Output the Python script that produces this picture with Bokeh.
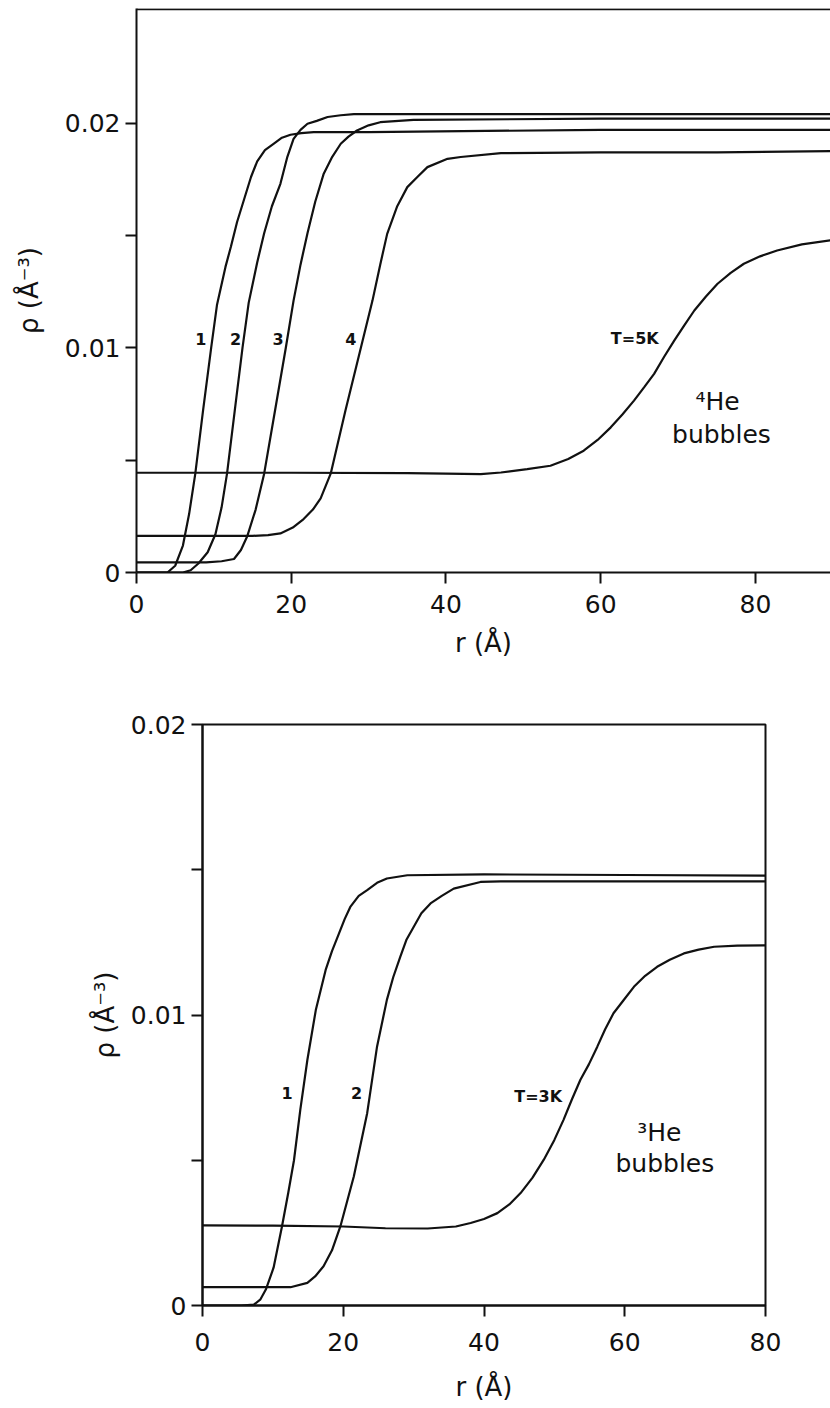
from bokeh.plotting import figure
from bokeh.models import Range1d, FixedTicker, Span
from bokeh.core.properties import value
from bokeh.embed import file_html
from bokeh.resources import INLINE

# ---------------- 4He bubbles (top panel) ----------------
he4_c1_r = [0, 4.0, 5.0, 6.0, 6.8, 7.6, 8.6, 9.65, 10.4, 11.5, 12.2, 13.0, 13.9, 14.8, 15.6, 16.6, 17.8, 18.8, 19.9, 21.3, 22.9, 30, 60, 90]
he4_c1_rho = [0, 0, 0.0003, 0.0012, 0.0026, 0.0044, 0.0072, 0.0100, 0.0119, 0.0136, 0.0145, 0.0156, 0.0166, 0.0176, 0.0183, 0.0188, 0.0191, 0.01935, 0.01948, 0.01955, 0.0196, 0.0196, 0.0197, 0.0197]

he4_c2_r = [0, 6.0, 7.0, 8.0, 9.2, 10.2, 11.0, 11.7, 12.7, 13.7, 14.5, 15.6, 16.5, 17.5, 18.6, 19.5, 20.3, 21.2, 22.1, 23.3, 24.7, 26.4, 28.1, 35, 60, 90]
he4_c2_rho = [0, 0, 0.0001, 0.0004, 0.0009, 0.0017, 0.0029, 0.0044, 0.0072, 0.0100, 0.0120, 0.0138, 0.0151, 0.0163, 0.0173, 0.0185, 0.0193, 0.0197, 0.01997, 0.0201, 0.02027, 0.02035, 0.0204, 0.0204, 0.0204, 0.0204]

he4_c3_r = [0, 9.0, 11.0, 12.6, 13.5, 14.3, 15.4, 16.5, 17.9, 19.3, 20.3, 21.2, 22.1, 23.1, 24.2, 25.3, 26.4, 27.4, 28.5, 30.0, 31.5, 35.8, 60, 90]
he4_c3_rho = [0.00045, 0.00045, 0.0005, 0.0006, 0.0010, 0.0016, 0.0028, 0.0044, 0.0072, 0.0100, 0.0121, 0.0137, 0.0151, 0.0165, 0.01775, 0.0185, 0.01908, 0.0194, 0.01967, 0.0199, 0.02004, 0.02014, 0.0202, 0.0202]

he4_c4_r = [0, 15.0, 17.0, 18.6, 20.2, 21.6, 22.8, 23.8, 25.1, 27.0, 29.0, 30.5, 31.5, 32.4, 33.7, 35.0, 36.3, 37.6, 40.2, 41.9, 47.1, 60, 75, 90]
he4_c4_rho = [0.00163, 0.00163, 0.00166, 0.00174, 0.0020, 0.00238, 0.0028, 0.0033, 0.0044, 0.0072, 0.0100, 0.0121, 0.0137, 0.01507, 0.0163, 0.01715, 0.0176, 0.01804, 0.01841, 0.01849, 0.01866, 0.0187, 0.0187, 0.01875]

he4_t5_r = [0, 20, 35, 40, 44.5, 47.1, 50.5, 53.5, 55.8, 57.8, 59.6, 61.3, 62.8, 64.3, 65.6, 66.9, 68.2, 69.5, 70.8, 72.1, 73.6, 75.1, 76.8, 78.5, 80.6, 82.8, 86.0, 89.7]
he4_t5_rho = [0.00444, 0.00444, 0.00442, 0.0044, 0.00438, 0.00445, 0.0046, 0.00475, 0.00505, 0.00542, 0.0059, 0.00646, 0.00703, 0.00765, 0.00824, 0.00884, 0.0096, 0.01032, 0.011, 0.01166, 0.01228, 0.01285, 0.01333, 0.01374, 0.01407, 0.01433, 0.0146, 0.01478]

he4_label_text = ["1", "2", "3", "4", "T=5K"]
he4_label_r = [8.3, 12.8, 18.3, 27.7, 64.4]
he4_label_rho = [0.0104, 0.0104, 0.0104, 0.0104, 0.0104]

# ---------------- 3He bubbles (bottom panel) ----------------
he3_c1_r = [0, 5.5, 7.3, 8.2, 9.0, 10.1, 11.3, 12.2, 13.0, 13.9, 14.9, 16.1, 17.5, 18.4, 19.4, 20.2, 21.0, 22.2, 23.4, 24.8, 26.2, 29.1, 40, 60, 80]
he3_c1_rho = [0, 0, 0.00003, 0.0002, 0.00055, 0.0013, 0.00273, 0.0039, 0.005, 0.00674, 0.00845, 0.01017, 0.01155, 0.0122, 0.01281, 0.0133, 0.01372, 0.0141, 0.0143, 0.01455, 0.0147, 0.01481, 0.01484, 0.01482, 0.0148]

he3_c2_r = [0, 12.5, 14.9, 16.0, 17.2, 18.4, 19.6, 21.5, 23.4, 24.8, 26.2, 27.1, 28.1, 29.0, 30.0, 31.1, 32.4, 34.0, 35.7, 39.5, 42.4, 60, 80]
he3_c2_rho = [0.00063, 0.00063, 0.00078, 0.001, 0.00135, 0.0019, 0.00273, 0.00444, 0.00662, 0.00891, 0.01052, 0.0113, 0.012, 0.0126, 0.01303, 0.0135, 0.01384, 0.0141, 0.01435, 0.01458, 0.0146, 0.0146, 0.0146]

he3_t3_r = [0, 10, 20, 26, 32, 36, 38.1, 40.0, 41.9, 43.6, 45.2, 46.9, 48.5, 50.0, 51.3, 52.5, 53.7, 54.9, 56.1, 57.2, 58.4, 59.8, 61.3, 62.9, 64.6, 66.4, 68.4, 70.5, 72.7, 76, 80]
he3_t3_rho = [0.00276, 0.00275, 0.00272, 0.00266, 0.00265, 0.00272, 0.00284, 0.00298, 0.00318, 0.00348, 0.00387, 0.0044, 0.00502, 0.0057, 0.00639, 0.0071, 0.00777, 0.0083, 0.00891, 0.0095, 0.01006, 0.0105, 0.01097, 0.01135, 0.01166, 0.0119, 0.01212, 0.01225, 0.01235, 0.01239, 0.0124]

he3_label_text = ["1", "2", "T=3K"]
he3_label_r = [12.0, 21.9, 47.7]
he3_label_rho = [0.0073, 0.0073, 0.0072]

x_ticks = [0, 20, 40, 60, 80]
y_ticks = [0, 0.01, 0.02]
y_minor = [0.005, 0.015]
y_tick_labels = {0: "0", 0.01: "0.01", 0.02: "0.02"}

INK = "#111111"
FONT = "DejaVu Sans"
TOP_YMAX = 0.0251


def style(p, xl_standoff, xa_standoff, ya_standoff):
    p.grid.visible = False
    p.background_fill_color = "white"
    p.border_fill_color = "white"
    for ax in (p.xaxis[0], p.yaxis[0]):
        ax.axis_line_width = 2
        ax.axis_line_color = INK
        ax.major_tick_line_width = 2
        ax.major_tick_line_color = INK
        ax.minor_tick_line_width = 2
        ax.minor_tick_line_color = INK
        ax.major_tick_in = 0
        ax.major_tick_out = 11
        ax.minor_tick_in = 0
        ax.minor_tick_out = 11
        ax.major_label_text_font = FONT
        ax.major_label_text_font_size = "25px"
        ax.major_label_text_color = INK
        ax.axis_label_text_font = FONT
        ax.axis_label_text_font_size = "26px"
        ax.axis_label_text_font_style = "normal"
        ax.axis_label_text_color = INK
    p.xaxis[0].ticker = FixedTicker(ticks=x_ticks)
    p.yaxis[0].ticker = FixedTicker(ticks=y_ticks, minor_ticks=y_minor)
    p.yaxis[0].major_label_overrides = y_tick_labels
    p.xaxis[0].axis_label = "r (Å)"
    p.yaxis[0].axis_label = "ρ (Å⁻³)"
    p.xaxis[0].major_label_standoff = xl_standoff
    p.yaxis[0].major_label_standoff = 5
    p.xaxis[0].axis_label_standoff = xa_standoff
    p.yaxis[0].axis_label_standoff = ya_standoff


# top panel
p1 = figure(width=830, height=698, x_range=Range1d(0, 89.7), y_range=Range1d(0, TOP_YMAX),
            output_backend="svg", toolbar_location=None,
            min_border_left=136, min_border_right=0, min_border_top=8, min_border_bottom=126)
style(p1, 11, 12, 18)
p1.outline_line_color = None
# top border of the frame (the right side is cut off in the original figure)
p1.add_layout(Span(location=TOP_YMAX * 0.9985, dimension="width", line_color=INK, line_width=2))
for r, rho in [(he4_c1_r, he4_c1_rho), (he4_c2_r, he4_c2_rho), (he4_c3_r, he4_c3_rho),
               (he4_c4_r, he4_c4_rho), (he4_t5_r, he4_t5_rho)]:
    p1.line(r, rho, line_color=INK, line_width=2.2)
p1.text(x=he4_label_r, y=he4_label_rho, text=he4_label_text, text_font=value(FONT),
        text_font_size="16px", text_font_style="bold", text_align="center",
        text_baseline="middle", text_color=INK)
p1.text(x=[75.1], y=[0.0076], text=["⁴He"], text_font=value(FONT), text_font_size="25px",
        text_align="center", text_baseline="middle", text_color=INK)
p1.text(x=[75.6], y=[0.00613], text=["bubbles"], text_font=value(FONT), text_font_size="25px",
        text_align="center", text_baseline="middle", text_color=INK)

# bottom panel
p2 = figure(width=830, height=706, x_range=Range1d(0, 80), y_range=Range1d(0, 0.02),
            output_backend="svg", toolbar_location=None,
            min_border_left=202, min_border_right=65, min_border_top=26, min_border_bottom=98)
style(p2, 16, 18, 8)
p2.outline_line_color = INK
p2.outline_line_width = 2
p2.outline_line_alpha = 1.0
for r, rho in [(he3_c1_r, he3_c1_rho), (he3_c2_r, he3_c2_rho), (he3_t3_r, he3_t3_rho)]:
    p2.line(r, rho, line_color=INK, line_width=2.2)
p2.text(x=he3_label_r, y=he3_label_rho, text=he3_label_text, text_font=value(FONT),
        text_font_size="16px", text_font_style="bold", text_align="center",
        text_baseline="middle", text_color=INK)
p2.text(x=[64.9], y=[0.00596], text=["³He"], text_font=value(FONT), text_font_size="25px",
        text_align="center", text_baseline="middle", text_color=INK)
p2.text(x=[65.7], y=[0.00488], text=["bubbles"], text_font=value(FONT), text_font_size="25px",
        text_align="center", text_baseline="middle", text_color=INK)

open("out.html", "w").write(file_html([p1, p2], INLINE))
